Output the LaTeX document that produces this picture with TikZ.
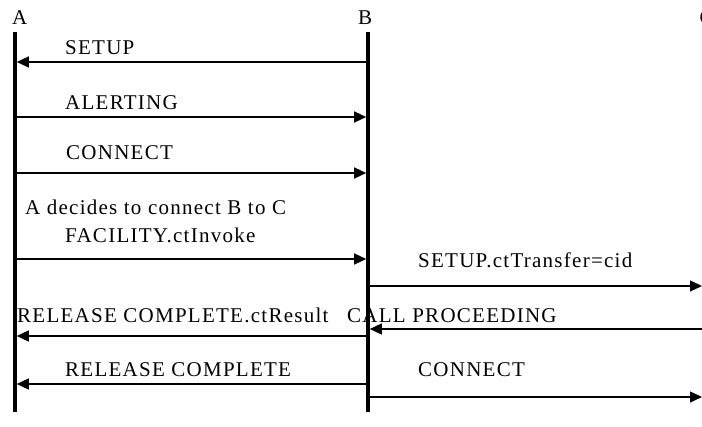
\documentclass[tikz,border=0pt]{standalone}
\usepackage{fontspec}
\setmainfont{Liberation Serif}
\newfontfamily\msgfont[LetterSpace=6]{Liberation Serif}
\usetikzlibrary{arrows.meta,calc}
\begin{document}
\begin{tikzpicture}[x=1pt,y=-1pt,
  lifeline/.style={line width=3.6pt},
  msg/.style={line width=1.3pt,-{Triangle[length=12pt,width=11pt]}},
  lbl/.style={anchor=base west,inner sep=0pt,font=\msgfont\fontsize{21}{24}\selectfont},
  head/.style={anchor=base west,inner sep=0pt,font=\fontsize{21}{24}\selectfont}]
\useasboundingbox (0,0) rectangle (702,427);
% lifeline positions
\coordinate (Atop) at (15,32);   \coordinate (Abot) at (15,412);
\coordinate (Btop) at (368,32);  \coordinate (Bbot) at (368,412);
\coordinate (Cx) at (702,0);
\node[head] (la) at (12,25) {A};
\node[head] (lb) at (358,25) {B};
\node[head] (lc) at (699.5,25) {C};
\draw[lifeline] (Atop) -- (Abot);
\draw[lifeline] (Btop) -- (Bbot);
% arrow end points on each lifeline (half the lifeline width off the axis)
\foreach \n/\y in {1/62,2/117,3/173,4/259,7/336,8/384}{
  \coordinate (a\n) at ($(Atop|-0,\y)+(1.8,0)$);
  \coordinate (b\n) at ($(Btop|-0,\y)+(-1.8,0)$);
}
\foreach \n/\y in {5/286,6/329,9/397}{
  \coordinate (b\n) at ($(Btop|-0,\y)+(1.8,0)$);
  \coordinate (c\n) at (Cx|-0,\y);
}
% messages between A and B
\draw[msg] (b1) -- (a1);
\node[lbl] (t1) at (65,55) {SETUP};
\draw[msg] (a2) -- (b2);
\node[lbl] (t2) at (65,110) {ALERTING};
\draw[msg] (a3) -- (b3);
\node[lbl] (t3) at (66,160) {CONNECT};
\node[lbl] (t4a) at (25,215) {A decides to connect B to C};
\node[lbl] (t4) at (65,243) {FACILITY.ctInvoke};
\draw[msg] (a4) -- (b4);
% messages between B and C
\node[lbl] (t5) at (418,268) {SETUP.ctTransfer=cid};
\draw[msg] (b5) -- (c5);
\node[lbl] (t6) at (347,323) {CALL PROCEEDING};
\draw[msg] (c6) -- (b6);
\node[lbl] (t7) at (17,323) {RELEASE COMPLETE.ctResult};
\draw[msg] (b7) -- (a7);
\node[lbl] (t8) at (65,377) {RELEASE COMPLETE};
\draw[msg] (b8) -- (a8);
\node[lbl] (t9) at (418,377) {CONNECT};
\draw[msg] (b9) -- (c9);
\end{tikzpicture}
\end{document}
